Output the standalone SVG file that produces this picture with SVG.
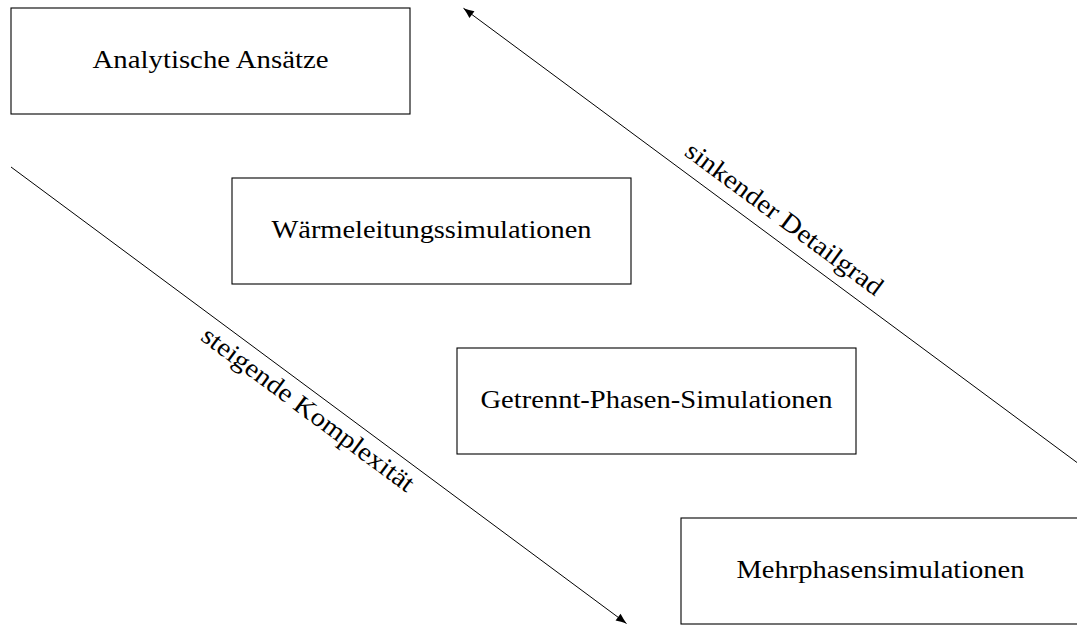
<svg xmlns="http://www.w3.org/2000/svg" width="1077" height="626" viewBox="0 0 1077 626">
  <style>
    .box { fill: #fff; stroke: #000; stroke-width: 1.1; }
    .lbl { font-family: "Liberation Serif", "DejaVu Serif", serif; font-size: 26px; fill: #000; text-anchor: middle; }
    .conn { fill: none; stroke: #000; stroke-width: 1; marker-end: url(#arrow); }
  </style>
  <defs>
    <marker id="arrow" markerUnits="userSpaceOnUse" markerWidth="12" markerHeight="10" refX="10.5" refY="0" viewBox="0 -5 12 10" orient="auto" overflow="visible">
      <path d="M0,-4.2 Q5,-1.8 10.5,0 Q5,1.8 0,4.2 Z" fill="#000"/>
    </marker>
  </defs>
  <rect width="1077" height="626" fill="#fff"/>
  <g id="node-analytisch">
    <rect class="box" x="11" y="8" width="399" height="106"/>
    <text class="lbl" x="210.5" y="68" textLength="236" lengthAdjust="spacingAndGlyphs">Analytische Ansätze</text>
  </g>
  <g id="node-waermeleitung">
    <rect class="box" x="232" y="178" width="399" height="106"/>
    <text class="lbl" x="431.5" y="238" textLength="320" lengthAdjust="spacingAndGlyphs">Wärmeleitungssimulationen</text>
  </g>
  <g id="node-getrennt">
    <rect class="box" x="457" y="348" width="399" height="106"/>
    <text class="lbl" x="656.5" y="408" textLength="352" lengthAdjust="spacingAndGlyphs">Getrennt-Phasen-Simulationen</text>
  </g>
  <g id="node-mehrphasen">
    <rect class="box" x="681" y="518" width="399" height="106"/>
    <text class="lbl" x="880.5" y="578" textLength="288" lengthAdjust="spacingAndGlyphs">Mehrphasensimulationen</text>
  </g>
  <g id="connectors">
    <path class="conn" d="M11,167 L626.5,623.5"/>
    <path class="conn" d="M1079,464 L463.5,8.3"/>
    <g transform="translate(318.5,395.3) rotate(36.56)">
      <text class="lbl" x="0" y="26" textLength="258" lengthAdjust="spacingAndGlyphs">steigende Komplexität</text>
    </g>
    <g transform="translate(771.5,236) rotate(36.56)">
      <text class="lbl" x="0" y="-13" textLength="239" lengthAdjust="spacingAndGlyphs">sinkender Detailgrad</text>
    </g>
  </g>
</svg>
